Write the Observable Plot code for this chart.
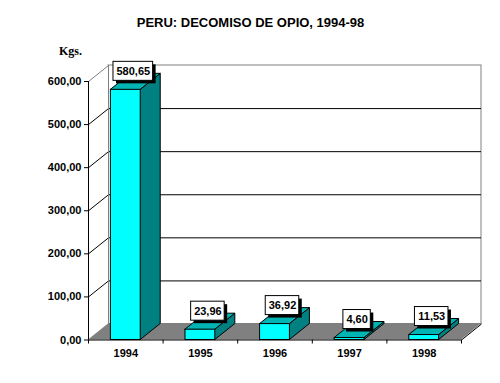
<!DOCTYPE html>
<html><head><meta charset="utf-8">
<script src="https://cdn.jsdelivr.net/npm/d3@7"></script>
<script src="https://cdn.jsdelivr.net/npm/@observablehq/plot@0.6"></script>
<style>body{margin:0;background:#fff}</style>
</head><body><div id="chart"></div>
<script>
const title = "PERU: DECOMISO DE OPIO, 1994-98";
const unitLabel = "Kgs.";
const years = ["1994", "1995", "1996", "1997", "1998"];
const values = [580.65, 23.96, 36.92, 4.60, 11.53];
const yTicks = [0, 100, 200, 300, 400, 500, 600];

// layout (pixels)
const W = 500, H = 383, ML = 88, MR = 19, MT = 65, MB = 43.5;
const DXP = 20, DYP = 16;         // 3D depth offset
const n = years.length;
const yMax = d3.max(yTicks);
const kx = (W - ML - MR - DXP) / n;
const ky = (H - MT - MB - DYP) / yMax;
const DX = DXP / kx, DY = DYP / ky;
const half = 0.2;

const fmt = v => v.toFixed(2).replace(".", ",");
const bars = years.map((yr, i) => ({yr, v: values[i], c: i + 0.5}));

const sideFaces = bars.flatMap(b => [
  {id: b.yr, x: b.c + half, y1: 0, y2: b.v},
  {id: b.yr, x: b.c + half + DX, y1: DY, y2: b.v + DY}
]);
const topFaces = bars.flatMap(b => [
  {id: b.yr, y: b.v, x1: b.c - half, x2: b.c + half},
  {id: b.yr, y: b.v + DY, x1: b.c - half + DX, x2: b.c + half + DX}
]);
const floor = [{y: 0, x1: 0, x2: n}, {y: DY, x1: DX, x2: n + DX}];
const sideWall = [{x: 0, y1: 0, y2: yMax}, {x: DX, y1: DY, y2: yMax + DY}];

const LFS = 11;
const textW = s => [...s].reduce((a, ch) => a + (ch === "," ? 0.278 : 0.556), 0) * LFS;
const labels = bars.map(b => {
  const t = fmt(b.v);
  const hw = (textW(t) + 6) / 2 / kx;
  const hh = 9.5 / ky;
  const cx = b.c + DX / 2 - 2.5 / kx;
  const cy = b.v + DY / 2 + 10.5 / ky;
  return {t, cx, cy, x1: cx - hw, x2: cx + hw, y1: cy - hh, y2: cy + hh};
});

const chart = Plot.plot({
  width: W, height: H,
  marginLeft: ML, marginRight: MR, marginTop: MT, marginBottom: MB,
  style: {fontFamily: "'Liberation Sans', Arial, sans-serif", background: "white", overflow: "visible"},
  x: {domain: [0, n + DX]},
  y: {domain: [0, yMax + DY]},
  marks: [
    // back wall
    Plot.rect([0], {x1: DX, x2: n + DX, y1: DY, y2: yMax + DY, fill: "white", stroke: "#808080"}),
    Plot.ruleY(yTicks.filter(t => t > 0 && t < yMax), {y: d => d + DY, x1: DX, x2: n + DX, stroke: "black"}),
    // side wall
    Plot.areaY(sideWall, {x: "x", y1: "y1", y2: "y2", fill: "white"}),
    Plot.link(yTicks.filter(t => t > 0 && t < yMax), {x1: 0, y1: d => d, x2: DX, y2: d => d + DY, stroke: "black"}),
    Plot.link([yMax], {x1: 0, y1: d => d, x2: DX, y2: d => d + DY, stroke: "#808080"}),
    Plot.ruleX([DX], {y1: DY, y2: yMax + DY, stroke: "#808080"}),
    // floor
    Plot.areaX(floor, {y: "y", x1: "x1", x2: "x2", fill: "#808080"}),
    Plot.link([n], {x1: d => d, y1: 0, x2: d => d + DX, y2: DY, stroke: "black"}),
    // bars
    Plot.areaY(sideFaces, {x: "x", y1: "y1", y2: "y2", z: "id", fill: "#008080", stroke: "black", strokeWidth: 1}),
    Plot.areaX(topFaces, {y: "y", x1: "x1", x2: "x2", z: "id", fill: "#00B4B4", stroke: "black", strokeWidth: 1}),
    Plot.rect(bars, {x1: d => d.c - half, x2: d => d.c + half, y1: 0, y2: "v", fill: "#00FFFF", stroke: "black"}),
    // axes
    Plot.ruleX([0], {y1: 0, y2: yMax, stroke: "black"}),
    Plot.ruleY([0], {x1: 0, x2: n, stroke: "black"}),
    Plot.axisY({ticks: yTicks, tickFormat: fmt, tickSize: 4, tickPadding: 3, fontSize: 11, fontWeight: "bold", stroke: "black", fill: "black"}),
    Plot.axisX({ticks: d3.range(n + 1), tickFormat: () => "", tickSize: 4, stroke: "black"}),
    Plot.text(bars, {x: "c", y: 0, text: "yr", dy: 13.5, fontSize: 11, fontWeight: "bold", fill: "black"}),
    // value labels
    Plot.rect(labels, {x1: "x1", x2: "x2", y1: "y1", y2: "y2", fill: "black", dx: 3, dy: 3}),
    Plot.rect(labels, {x1: "x1", x2: "x2", y1: "y1", y2: "y2", fill: "white", stroke: "black"}),
    Plot.text(labels, {x: "cx", y: "cy", text: "t", fontSize: LFS, fontWeight: "bold", fill: "black"}),
    // titles
    Plot.text([title], {frameAnchor: "top-left", dx: 250 - ML, dy: 22.5 - MT, textAnchor: "middle", lineAnchor: "middle", fontSize: 13, fontWeight: "bold", fill: "black"}),
    Plot.text([unitLabel], {frameAnchor: "top-left", dx: 70 - ML, dy: 51 - MT, textAnchor: "middle", lineAnchor: "middle", fontSize: 12, fontWeight: "bold", fontFamily: "'Liberation Serif', serif", fill: "black"})
  ]
});
document.getElementById("chart").appendChild(chart);
</script>
</body></html>
